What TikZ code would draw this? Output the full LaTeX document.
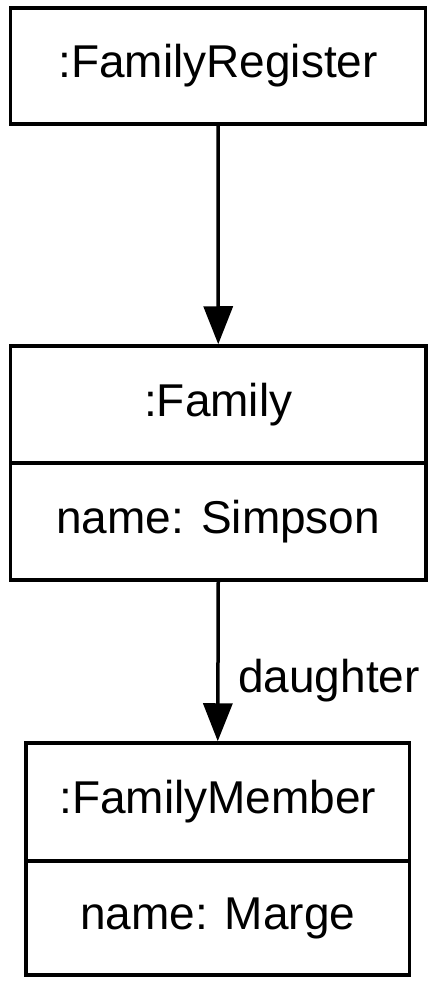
\documentclass[tikz,border=0pt]{standalone}
\usepackage{fontspec}
\setmainfont{Liberation Sans}
\usetikzlibrary{arrows.meta}
\tikzset{
  umlbox/.style={draw=black, line width=3.5pt, rectangle, inner sep=0pt,
    font=\fontsize{46}{55}\selectfont, anchor=center},
  assoc/.style={line width=3.5pt, -{Triangle[width=29pt,length=38pt]}},
  lbl/.style={font=\fontsize{46}{55}\selectfont, inner sep=0pt}
}
\begin{document}
\begin{tikzpicture}[x=1pt,y=-1pt]
\useasboundingbox (0,0) rectangle (437,984);
\node[umlbox, minimum width=415pt, minimum height=116pt] (reg) at (218,66) {:FamilyRegister};
\node[umlbox, minimum width=415.5pt, minimum height=117pt] (fam) at (218.25,404.5) {:Family};
\node[umlbox, minimum width=415.5pt, minimum height=117pt] (famattr) at (218.25,521.5) {name: Simpson};
\node[umlbox, minimum width=383.5pt, minimum height=118pt] (mem) at (217.75,802) {:FamilyMember};
\node[umlbox, minimum width=383.5pt, minimum height=114pt] (memattr) at (217.75,918) {name: Marge};
\draw[assoc] (reg.south) -- (fam.north);
\draw[assoc] (famattr.south) -- (mem.north);
\node[lbl, anchor=base west] (dlabel) at (238,692) {daughter};
\end{tikzpicture}
\end{document}
